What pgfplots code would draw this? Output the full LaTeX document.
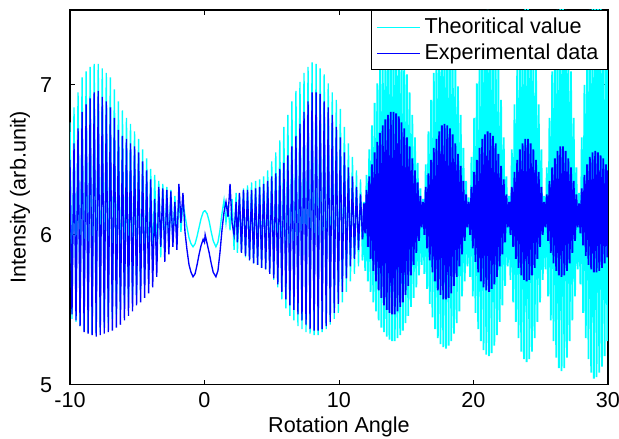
\documentclass[border=0pt]{standalone}
\usepackage{fontspec}
\setmainfont{Liberation Sans}
\usepackage{pgfplots}
\pgfplotsset{compat=1.18}
\usepackage{pgfplotstable}

\definecolor{mcyan}{rgb}{0,1,1}
\definecolor{mblue}{rgb}{0,0,1}

% x, theoretical (t), experimental (e) -- first part, -10 .. 11.75
\pgfplotstableread{
x t e
-10.00 6.75 6.50
-9.85 5.44 5.47
-9.70 6.85 6.61
-9.55 5.42 5.43
-9.40 6.95 6.71
-9.25 5.39 5.39
-9.10 7.05 6.82
-8.95 5.36 5.35
-8.80 7.09 6.87
-8.65 5.35 5.34
-8.50 7.12 6.91
-8.35 5.34 5.33
-8.20 7.14 6.95
-8.05 5.33 5.32
-7.90 7.14 6.96
-7.75 5.35 5.33
-7.60 7.11 6.92
-7.45 5.38 5.34
-7.30 7.08 6.89
-7.15 5.41 5.35
-7.00 7.05 6.85
-6.85 5.44 5.36
-6.70 6.97 6.78
-6.55 5.47 5.38
-6.40 6.89 6.70
-6.25 5.50 5.40
-6.10 6.83 6.66
-5.95 5.53 5.43
-5.80 6.78 6.64
-5.65 5.55 5.46
-5.50 6.74 6.61
-5.35 5.57 5.49
-5.20 6.69 6.59
-5.05 5.60 5.53
-4.90 6.64 6.55
-4.75 5.64 5.55
-4.60 6.57 6.49
-4.45 5.68 5.58
-4.30 6.51 6.43
-4.15 5.73 5.61
-4.00 6.44 6.37
-3.85 5.77 5.65
-3.70 6.40 6.24
-3.55 5.81 5.72
-3.40 6.36 6.32
-3.25 5.85 5.92
-3.10 6.34 6.31
-2.95 5.88 5.82
-2.80 6.32 6.30
-2.65 5.91 5.87
-2.50 6.30 6.29
-2.35 5.95 5.92
-2.20 6.26 6.22
-2.05 5.97 5.90
-1.90 6.27 6.34
-1.75 6.02 6.08
-1.60 6.22 6.28
-1.45 6.13 6.02
-1.30 6.05 5.90
-1.15 5.98 5.80
-1.00 5.94 5.75
-0.85 5.92 5.72
-0.70 5.94 5.74
-0.55 5.99 5.80
-0.40 6.05 5.87
-0.25 6.11 5.93
-0.10 6.15 5.97
0.00 6.16 5.95
0.05 6.16 6.00
0.20 6.14 5.94
0.35 6.09 5.88
0.50 6.02 5.81
0.65 5.96 5.75
0.85 5.92 5.72
1.00 5.95 5.76
1.15 6.03 5.88
1.30 6.14 6.03
1.45 6.23 6.15
1.60 6.08 6.22
1.75 6.20 6.12
1.90 6.03 6.34
2.05 6.24 6.08
2.20 5.90 6.00
2.35 6.28 6.22
2.45 5.88 5.95
2.60 6.27 6.28
2.75 5.88 5.88
2.90 6.31 6.30
3.05 5.85 5.86
3.20 6.33 6.30
3.35 5.83 5.83
3.50 6.35 6.30
3.65 5.81 5.81
3.80 6.36 6.31
3.95 5.80 5.80
4.10 6.37 6.32
4.25 5.78 5.78
4.40 6.39 6.34
4.55 5.77 5.77
4.70 6.43 6.36
4.85 5.74 5.74
5.00 6.49 6.39
5.15 5.70 5.71
5.30 6.55 6.41
5.45 5.65 5.67
5.60 6.63 6.44
5.75 5.57 5.62
5.90 6.72 6.48
6.05 5.51 5.57
6.20 6.80 6.53
6.35 5.46 5.53
6.50 6.89 6.59
6.65 5.43 5.50
6.80 6.96 6.66
6.95 5.39 5.47
7.10 7.02 6.74
7.25 5.37 5.43
7.40 7.08 6.82
7.55 5.35 5.40
7.70 7.12 6.89
7.85 5.34 5.37
8.00 7.15 6.95
8.15 5.33 5.36
8.30 7.14 6.95
8.45 5.33 5.36
8.60 7.11 6.94
8.75 5.35 5.37
8.90 7.07 6.89
9.05 5.37 5.39
9.20 7.01 6.85
9.35 5.40 5.42
9.50 6.95 6.80
9.65 5.44 5.48
9.80 6.90 6.72
9.95 5.48 5.54
10.10 6.84 6.65
10.25 5.55 5.62
10.40 6.72 6.55
10.55 5.62 5.71
10.70 6.61 6.45
10.85 5.69 5.79
11.00 6.52 6.39
11.15 5.74 5.84
11.30 6.43 6.32
11.45 5.79 5.90
11.60 6.37 6.27
11.75 5.83 5.97
}\sigleft

% second part, 11.75 .. 30 (denser fringes)
\pgfplotstableread{
x t e
11.75 5.83 5.97
11.85 6.22 6.21
11.95 5.76 6.01
12.05 6.40 6.30
12.15 5.69 5.92
12.25 6.57 6.39
12.35 5.62 5.84
12.45 6.73 6.47
12.55 5.55 5.76
12.65 6.88 6.55
12.75 5.49 5.69
12.85 7.01 6.62
12.95 5.43 5.63
13.05 7.13 6.68
13.15 5.38 5.58
13.25 7.23 6.73
13.35 5.35 5.53
13.45 7.31 6.77
13.55 5.32 5.50
13.65 7.36 6.80
13.75 5.30 5.48
13.85 7.39 6.82
13.95 5.29 5.47
14.05 7.40 6.82
14.15 5.29 5.47
14.25 7.38 6.81
14.35 5.31 5.49
14.45 7.34 6.79
14.55 5.33 5.52
14.65 7.27 6.75
14.75 5.36 5.55
14.85 7.18 6.71
14.95 5.41 5.60
15.05 7.07 6.65
15.15 5.46 5.66
15.25 6.95 6.59
15.35 5.52 5.73
15.45 6.80 6.51
15.55 5.58 5.80
15.65 6.65 6.43
15.75 5.65 5.88
15.85 6.48 6.35
15.95 5.73 5.96
16.05 6.31 6.26
16.15 5.80 6.05
16.25 6.24 6.22
16.35 5.74 6.00
16.45 6.47 6.32
16.55 5.64 5.91
16.65 6.69 6.41
16.75 5.54 5.83
16.85 6.90 6.50
16.95 5.45 5.75
17.05 7.08 6.58
17.15 5.37 5.69
17.25 7.23 6.64
17.35 5.31 5.63
17.45 7.34 6.69
17.55 5.27 5.60
17.65 7.42 6.73
17.75 5.25 5.57
17.85 7.45 6.74
17.95 5.24 5.57
18.05 7.44 6.73
18.15 5.26 5.58
18.25 7.38 6.71
18.35 5.29 5.61
18.45 7.29 6.67
18.55 5.34 5.66
18.65 7.16 6.61
18.75 5.41 5.72
18.85 6.99 6.54
18.95 5.49 5.79
19.05 6.80 6.46
19.15 5.59 5.87
19.25 6.58 6.36
19.35 5.69 5.96
19.45 6.36 6.27
19.55 5.79 6.05
19.65 6.25 6.22
19.75 5.72 6.00
19.85 6.52 6.32
19.95 5.59 5.91
20.05 6.78 6.42
20.15 5.48 5.82
20.25 7.01 6.50
20.35 5.37 5.75
20.45 7.21 6.58
20.55 5.29 5.69
20.65 7.36 6.64
20.75 5.23 5.65
20.85 7.46 6.67
20.95 5.20 5.63
21.05 7.50 6.69
21.15 5.19 5.62
21.25 7.48 6.68
21.35 5.21 5.64
21.45 7.41 6.66
21.55 5.26 5.67
21.65 7.29 6.61
21.75 5.33 5.72
21.85 7.11 6.54
21.95 5.42 5.79
22.05 6.90 6.46
22.15 5.53 5.87
22.25 6.65 6.37
22.35 5.66 5.95
22.45 6.39 6.27
22.55 5.79 6.05
22.65 6.26 6.22
22.75 5.70 6.00
22.85 6.57 6.32
22.95 5.55 5.92
23.05 6.87 6.42
23.15 5.42 5.84
23.25 7.12 6.50
23.35 5.31 5.78
23.45 7.32 6.57
23.55 5.22 5.73
23.65 7.47 6.61
23.75 5.17 5.70
23.85 7.54 6.64
23.95 5.15 5.69
24.05 7.54 6.64
24.15 5.17 5.70
24.25 7.47 6.61
24.35 5.22 5.73
24.45 7.32 6.57
24.55 5.31 5.78
24.65 7.12 6.50
24.75 5.42 5.84
24.85 6.87 6.42
24.95 5.55 5.92
25.05 6.57 6.32
25.15 5.70 6.00
25.25 6.26 6.22
25.35 5.77 6.05
25.45 6.45 6.27
25.55 5.59 5.96
25.65 6.78 6.36
25.75 5.43 5.88
25.85 7.09 6.45
25.95 5.29 5.81
26.05 7.33 6.51
26.15 5.18 5.76
26.25 7.50 6.56
26.35 5.11 5.73
26.45 7.59 6.59
26.55 5.09 5.72
26.65 7.59 6.59
26.75 5.11 5.73
26.85 7.50 6.56
26.95 5.18 5.76
27.05 7.33 6.51
27.15 5.29 5.81
27.25 7.09 6.45
27.35 5.43 5.88
27.45 6.78 6.36
27.55 5.59 5.96
27.65 6.45 6.27
27.75 5.77 6.05
27.85 6.28 6.21
27.95 5.67 6.01
28.05 6.65 6.31
28.15 5.48 5.93
28.25 7.00 6.40
28.35 5.31 5.86
28.45 7.29 6.47
28.55 5.17 5.80
28.65 7.50 6.52
28.75 5.08 5.77
28.85 7.62 6.55
28.95 5.04 5.75
29.05 7.65 6.56
29.15 5.05 5.75
29.25 7.61 6.55
29.35 5.08 5.76
29.45 7.55 6.53
29.55 5.12 5.78
29.65 7.44 6.51
29.75 5.19 5.81
29.85 7.28 6.47
29.95 5.29 5.85
30.00 7.12 6.43
}\sigright

\begin{document}
\fontsize{12}{14}\selectfont
\begin{tikzpicture}
\useasboundingbox (-1.367cm,-1.055cm) rectangle (10.725cm,7.515cm);
\begin{axis}[
  at={(0,0)}, anchor=south west,
  scale only axis,
  width=10.51cm, height=7.32cm,
  xmin=-10, xmax=30, ymin=5, ymax=7.5,
  xtick={-10,0,10,20,30}, ytick={5,6,7},
  tick align=inside,
  major tick length=0.1cm,
  axis line style={line width=0.6pt},
  every tick/.style={black, line width=0.5pt},
  /pgf/number format/assume math mode=true,
  ticklabel style={font=\fontsize{12}{14}\selectfont},
  yticklabel style={xshift=-0.2cm},
  xlabel={Rotation Angle},
  ylabel={Intensity (arb.unit)},
  xlabel style={at={(axis description cs:0.5,-0.128)}, anchor=base},
  ylabel style={at={(axis description cs:-0.093,0.5)}, anchor=center},
  label style={font=\fontsize{12}{14}\selectfont},
  legend style={at={(1,1)}, anchor=north east, draw=black, fill=white,
    font=\fontsize{12}{14}\selectfont, line width=0.5pt},
  legend cell align=left,
  legend image code/.code={\draw[#1, line width=0.6pt] (0cm,0cm) -- (0.84cm,0cm);},
]
\addplot[mcyan, line width=0.75pt] table[x=x, y=t]{\sigleft};
\addplot[mblue, line width=0.75pt] table[x=x, y=e]{\sigleft};
\addplot[mcyan, line width=1.0pt, forget plot] table[x=x, y=t]{\sigright};
\addplot[mblue, line width=1.0pt, forget plot] table[x=x, y=e]{\sigright};
\legend{Theoritical value, Experimental data}
\end{axis}
\end{tikzpicture}
\end{document}
